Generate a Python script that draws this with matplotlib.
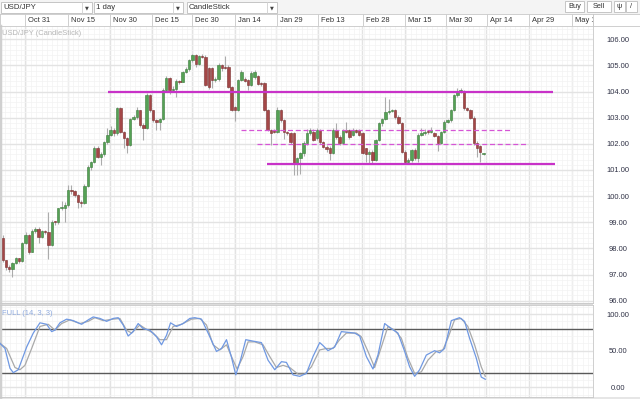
import matplotlib
matplotlib.use('Agg')
import matplotlib.pyplot as plt
from matplotlib.patches import Rectangle
import numpy as np

plt.rcParams['font.family'] = ['Liberation Sans', 'DejaVu Sans']

# daily USD/JPY candles, oldest first
opens = [98.38, 97.55, 97.30, 97.22, 97.43, 97.62, 97.50, 98.19, 98.51, 97.87,
         98.66, 98.74, 98.45, 98.66, 98.62, 98.13, 99.02, 99.00, 99.53, 99.55,
         99.66, 100.23, 100.20, 100.04, 99.76, 99.72, 100.40, 101.13, 101.29, 101.85,
         101.51, 101.62, 102.08, 102.34, 102.53, 102.40, 103.36, 102.47, 102.21, 101.95,
         102.94, 103.01, 103.29, 102.72, 102.59, 103.87, 103.29, 102.91, 102.85, 102.94,
         104.06, 104.51, 104.06, 104.10, 104.42, 104.38, 104.76, 104.85, 105.20, 105.40,
         105.05, 105.36, 105.33, 104.89, 104.89, 104.44, 104.47, 105.00, 104.95, 104.95,
         104.19, 103.42, 103.29, 104.44, 104.50, 104.44, 104.25, 104.55, 104.60, 104.30,
         104.31, 103.30, 102.53, 102.53, 102.47, 103.29, 102.91, 102.47, 102.41, 102.40,
         101.25, 101.44, 101.64, 102.02, 102.40, 102.47, 102.21, 102.53, 102.08, 101.89,
         101.83, 101.64, 102.53, 102.27, 102.02, 102.53, 102.53, 102.33, 102.53, 102.53,
         102.40, 101.83, 101.61, 101.70, 101.38, 102.14, 102.78, 102.97, 103.23, 103.27,
         103.29, 103.04, 102.78, 101.70, 101.32, 101.38, 101.76, 101.45, 102.34, 102.40,
         102.47, 102.45, 102.40, 102.30, 102.02, 102.47, 102.85, 102.90, 103.29, 103.87,
         104.00, 104.00, 103.36, 103.30, 103.00, 102.02, 101.90, 101.62]
highs = [98.51, 97.57, 97.36, 97.47, 97.66, 97.65, 98.25, 98.62, 98.55, 98.75,
         98.82, 98.80, 98.70, 98.70, 99.40, 99.10, 99.05, 99.55, 99.80, 99.78,
         100.42, 100.42, 100.25, 100.08, 99.85, 100.45, 101.20, 101.35, 101.90, 101.90,
         101.68, 102.12, 102.59, 102.70, 102.60, 103.40, 103.40, 102.50, 102.25, 103.00,
         103.10, 103.40, 103.30, 102.80, 103.95, 103.90, 103.30, 102.95, 103.00, 104.15,
         104.60, 104.55, 104.20, 104.50, 104.45, 104.80, 104.95, 105.25, 105.45, 105.45,
         105.40, 105.45, 105.40, 104.95, 104.95, 104.55, 105.08, 105.05, 105.37, 105.00,
         104.22, 103.45, 104.50, 104.82, 104.55, 104.50, 104.80, 104.82, 104.65, 104.36,
         104.35, 103.35, 102.55, 102.58, 103.40, 103.35, 102.95, 102.50, 102.45, 102.45,
         101.50, 101.70, 102.10, 102.55, 102.60, 102.55, 102.60, 102.58, 102.12, 101.95,
         101.90, 102.60, 102.80, 102.32, 102.58, 102.85, 102.58, 102.60, 102.58, 102.58,
         102.45, 101.86, 101.75, 101.75, 102.20, 102.82, 103.00, 103.80, 103.70, 103.33,
         103.33, 103.10, 102.82, 101.75, 101.45, 101.80, 101.85, 102.40, 102.60, 102.55,
         102.52, 102.65, 102.45, 102.35, 102.50, 102.90, 102.95, 103.33, 103.90, 104.12,
         104.15, 104.05, 103.42, 103.35, 103.05, 102.10, 101.95, 101.66]
lows = [97.49, 97.17, 97.11, 96.92, 97.40, 97.45, 97.47, 98.15, 97.80, 97.85,
        98.60, 98.19, 98.40, 98.55, 97.60, 98.10, 98.90, 98.95, 99.45, 99.00,
        99.60, 100.10, 99.95, 99.55, 99.60, 99.68, 100.35, 101.00, 101.25, 101.45,
        101.20, 101.55, 102.00, 102.30, 102.30, 102.35, 102.40, 101.83, 101.64, 101.90,
        102.90, 102.95, 102.65, 102.15, 102.55, 103.20, 102.85, 102.53, 102.53, 102.90,
        104.00, 103.90, 104.00, 103.80, 104.30, 104.35, 104.70, 104.80, 105.15, 104.95,
        105.00, 105.30, 104.20, 104.10, 104.15, 104.38, 104.40, 104.80, 104.85, 104.15,
        103.25, 102.87, 103.25, 104.40, 104.35, 104.06, 104.20, 104.50, 104.25, 104.22,
        103.25, 102.50, 101.95, 102.40, 102.40, 102.85, 102.20, 102.35, 102.00, 100.81,
        100.80, 100.85, 101.55, 101.95, 102.35, 102.10, 102.15, 102.00, 101.85, 101.70,
        101.40, 101.60, 102.20, 101.95, 101.98, 102.40, 102.20, 102.30, 102.42, 102.30,
        101.60, 101.32, 101.28, 101.28, 101.35, 102.10, 102.70, 102.90, 103.15, 103.20,
        102.95, 102.75, 101.65, 101.25, 101.25, 101.30, 101.40, 101.30, 102.30, 102.35,
        102.38, 102.40, 102.25, 101.74, 101.98, 102.40, 102.80, 102.85, 103.25, 103.80,
        103.95, 103.30, 103.25, 102.95, 101.95, 101.50, 101.32, 101.58]
closes = [97.55, 97.30, 97.22, 97.43, 97.62, 97.50, 98.19, 98.51, 97.87, 98.66,
          98.74, 98.45, 98.66, 98.62, 98.13, 99.02, 99.00, 99.53, 99.55, 99.66,
          100.23, 100.20, 100.04, 99.76, 99.72, 100.40, 101.13, 101.29, 101.85, 101.51,
          101.62, 102.08, 102.34, 102.53, 102.40, 103.36, 102.47, 102.21, 101.95, 102.94,
          103.01, 103.29, 102.72, 102.59, 103.87, 103.29, 102.91, 102.85, 102.94, 104.06,
          104.51, 104.06, 104.10, 104.42, 104.38, 104.76, 104.85, 105.20, 105.40, 105.05,
          105.36, 105.33, 104.25, 104.19, 104.44, 104.47, 105.00, 104.89, 104.89, 104.19,
          103.29, 103.29, 104.44, 104.76, 104.40, 104.25, 104.70, 104.75, 104.30, 104.28,
          103.30, 102.53, 102.40, 102.47, 103.29, 102.91, 102.47, 102.41, 102.08, 101.25,
          101.44, 101.64, 102.02, 102.40, 102.53, 102.15, 102.53, 102.08, 101.89, 101.79,
          101.64, 102.53, 102.27, 102.02, 102.53, 102.47, 102.27, 102.53, 102.47, 102.34,
          101.64, 101.61, 101.70, 101.38, 102.14, 102.78, 102.97, 103.23, 103.27, 103.29,
          103.04, 102.78, 101.70, 101.32, 101.38, 101.76, 101.45, 102.34, 102.40, 102.47,
          102.45, 102.53, 102.30, 102.02, 102.47, 102.85, 102.90, 103.29, 103.87, 104.00,
          104.05, 103.36, 103.30, 103.00, 102.02, 101.83, 101.70, 101.62]
assert len(opens) == len(highs) == len(lows) == len(closes)

# date header (position in candle units)
date_labels = ['Oct 31', 'Nov 15', 'Nov 30', 'Dec 15', 'Dec 30', 'Jan 14', 'Jan 29',
               'Feb 13', 'Feb 28', 'Mar 15', 'Mar 30', 'Apr 14', 'Apr 29', 'May 14']
date_pos = [6.81, 20.04, 32.77, 45.51, 57.91, 70.95, 83.69, 96.45, 109.96, 122.88,
            135.40, 147.83, 160.75, 173.97]

# support / resistance drawn on chart: (level, start, end)
solid_levels = [(104.0, 32.2, 168.1), (101.22, 80.9, 168.9)]
dashed_levels = [(102.53, 72.8, 155.0), (102.0, 77.7, 160.0)]

# Full stochastic (14,3,3)
k_x = [-0.82, 0.70, 2.23, 3.24, 4.76, 7.33, 9.35, 11.39, 13.44, 14.97,
       15.97, 17.50, 19.55, 21.56, 24.13, 26.15, 27.67, 29.72, 31.77, 33.78,
       35.31, 36.84, 38.36, 39.89, 41.42, 42.94, 44.99, 47.04, 48.56, 50.09,
       51.31, 53.15, 55.16, 57.21, 58.74, 60.78, 62.80, 65.36, 66.89, 68.42,
       69.94, 71.26, 72.69, 74.31, 76.54, 79.11, 81.12, 83.17, 85.22, 86.74,
       88.76, 90.81, 92.85, 94.87, 96.91, 97.92, 99.45, 101.50, 103.54, 105.56,
       107.61, 109.13, 111.18, 113.19, 114.72, 116.77, 118.81, 120.83, 122.88, 124.40,
       125.93, 127.46, 129.50, 132.04, 133.56, 135.09, 137.14, 139.67, 141.20, 142.73,
       144.77, 146.30, 147.53]
k_vals = [60, 53, 26, 20, 24, 55, 74, 88, 86, 76,
          78, 88, 93, 91, 86, 92, 96, 94, 90, 94,
          95, 85, 70, 76, 87, 80, 78, 69, 58, 71,
          88, 83, 87, 94, 95, 93, 74, 49, 53, 65,
          41, 17, 37, 65, 63, 61, 37, 24, 35, 34,
          17, 15, 19, 42, 61, 57, 50, 55, 76, 75,
          74, 70, 42, 25, 44, 87, 80, 74, 49, 28,
          15, 24, 44, 50, 47, 53, 91, 95, 90, 67,
          40, 14, 11]
d_x = [-0.82, 1.22, 3.76, 5.28, 6.81, 8.86, 11.39, 13.93, 15.97, 18.02,
       20.56, 23.61, 26.15, 28.19, 30.73, 33.78, 35.83, 37.87, 39.40, 41.94,
       43.98, 46.00, 48.04, 50.09, 52.11, 54.67, 57.73, 60.26, 62.31, 64.33,
       66.37, 68.42, 70.43, 71.66, 73.49, 75.02, 77.06, 79.60, 81.64, 83.69,
       85.71, 87.75, 90.29, 92.33, 94.38, 96.91, 98.96, 100.98, 103.02, 105.07,
       108.12, 109.65, 111.67, 113.71, 115.76, 117.78, 119.82, 121.87, 123.88, 125.93,
       127.98, 129.99, 132.56, 134.57, 136.10, 138.14, 140.19, 142.21, 144.26, 146.30,
       147.53]
d_vals = [60, 53, 27, 24, 30, 53, 83, 86, 78, 87,
          92, 87, 90, 95, 91, 93, 94, 78, 74, 85,
          79, 74, 65, 65, 83, 86, 93, 94, 85, 58,
          51, 58, 37, 25, 42, 62, 62, 58, 42, 27,
          30, 27, 18, 18, 28, 51, 53, 53, 65, 74,
          74, 69, 49, 27, 55, 83, 78, 67, 40, 19,
          21, 37, 49, 51, 67, 92, 94, 83, 58, 28,
          15]

W, H = 640.0, 399.0
def fx(px):
    return px / W
def fy(py):
    return 1 - py / H

XLIM = (-0.82, 180.3)
TXT = '#333333'
GRID = '#e3e3e3'
MINOR = '#f3f3f3'
BORDER = '#c8c8c8'
MAGENTA = '#c832c8'

fig = plt.figure(figsize=(6.4, 3.99), dpi=100)
fig.patch.set_facecolor('white')

# toolbar strip
fig.patches.append(Rectangle((0, fy(14)), 1, 1 - fy(14), transform=fig.transFigure,
                             facecolor='#f4f4f4', edgecolor='none', zorder=-2))
fig.patches.append(Rectangle((0, 0), 1, fy(397), transform=fig.transFigure,
                             facecolor='#e6e6e6', edgecolor='none', zorder=-2))
fig.patches.append(Rectangle((0, fy(305)), fx(593), fy(303) - fy(305), transform=fig.transFigure,
                             facecolor='#dcdcdc', edgecolor='none', zorder=-2))
fig.patches.append(Rectangle((fx(593), fy(26)), fx(47), fy(14) - fy(26), transform=fig.transFigure,
                             facecolor='white', edgecolor=BORDER, lw=0.6, zorder=-1))

for x0, x1, arrow_x, label in [(1, 92, 82, 'USD/JPY'), (94, 183, 173, '1 day'),
                               (187, 277, 267, 'CandleStick')]:
    fig.patches.append(Rectangle((fx(x0), fy(13)), fx(x1 - x0), fy(2) - fy(13),
                                 transform=fig.transFigure, facecolor='white',
                                 edgecolor='#bdbdbd', lw=0.6))
    fig.lines.append(plt.Line2D([fx(arrow_x), fx(arrow_x)], [fy(13), fy(2)],
                                transform=fig.transFigure, color='#d0d0d0', lw=0.6))
    fig.text(fx(x0 + 2), fy(7.8), label, fontsize=5.6, color=TXT, va='center', ha='left')
    fig.text(fx((arrow_x + x1) / 2), fy(7.8), '▼', fontsize=3.6, color='#444444',
             va='center', ha='center', family=['DejaVu Sans'])

for x0, x1, label in [(565, 584, 'Buy'), (587, 611, 'Sell'), (614, 625, 'ψ'), (626, 637, '/')]:
    fig.patches.append(Rectangle((fx(x0), fy(12)), fx(x1 - x0), fy(1) - fy(12),
                                 transform=fig.transFigure, facecolor='white',
                                 edgecolor='#bdbdbd', lw=0.6))
    fig.text(fx((x0 + x1) / 2), fy(6.8), label, fontsize=5.3, color=TXT,
             va='center', ha='center')

# date header row
hd = fig.add_axes([0, fy(26), fx(593), fy(14) - fy(26)])
hd.set_xlim(*XLIM)
hd.set_ylim(0, 1)
hd.set_facecolor('white')
hd.set_xticks([])
hd.set_yticks([])
for s in hd.spines.values():
    s.set_color(BORDER)
    s.set_linewidth(0.6)
hd.vlines(date_pos, 0, 1, color=BORDER, lw=0.6)
for p, lab in zip(date_pos, date_labels):
    hd.text(p + 0.9, 0.5, lab, fontsize=5.4, color=TXT, va='center', ha='left', clip_on=True)

# price panel
ax = fig.add_axes([0, fy(303), fx(593), fy(26) - fy(303)])
ax.set_xlim(*XLIM)
ax.set_ylim(95.91, 106.51)
ax.set_xticks(date_pos)
ax.set_xticks(np.arange(-0.8, 181, 1.59), minor=True)
ax.set_yticks(np.arange(96, 107))
ax.set_yticks(np.arange(96, 106.6, 0.2), minor=True)
ax.grid(which='major', color=GRID, lw=1.0, zorder=0)
ax.grid(which='minor', color=MINOR, lw=0.5, zorder=0)
ax.set_axisbelow(True)
ax.yaxis.tick_right()
ax.set_yticklabels(['%.2f' % v for v in np.arange(96, 107)])
ax.tick_params(axis='x', which='both', length=0, labelbottom=False)
ax.tick_params(axis='y', which='both', length=0, labelsize=5.4, labelcolor='#2f3145', pad=18)
for lab in ax.get_yticklabels():
    lab.set_ha('center')
for s in ax.spines.values():
    s.set_color(BORDER)
    s.set_linewidth(0.6)
ax.spines['left'].set_color('#d0d0d0')
ax.spines['left'].set_linewidth(2.5)

idx = np.arange(len(closes))
o = np.array(opens)
c = np.array(closes)
up = c >= o
body_lo = np.minimum(o, c)
body_h = np.maximum(np.abs(c - o), 0.035)
ax.vlines(idx, lows, highs, color='#ababab', lw=0.8, zorder=2)
ax.bar(idx[up], body_h[up], bottom=body_lo[up], width=0.72, color='#55a255',
       edgecolor='#3a7a3a', linewidth=0.4, zorder=3)
ax.bar(idx[~up], body_h[~up], bottom=body_lo[~up], width=0.72, color='#a44747',
       edgecolor='#7a2f2f', linewidth=0.4, zorder=3)

for lvl, x0, x1 in solid_levels:
    ax.hlines(lvl, x0, x1, color=MAGENTA, lw=1.6, zorder=4)
for lvl, x0, x1 in dashed_levels:
    ax.hlines(lvl, x0, x1, color='#d655d6', lw=0.9, linestyles=(0, (4, 2.2)), zorder=4)

ax.text(0.004, 0.985, 'USD/JPY (CandleStick)', transform=ax.transAxes, fontsize=5.4,
        color='#b5b5b5', va='top', ha='left')

# stochastic panel
ax2 = fig.add_axes([0, fy(397), fx(593), fy(305) - fy(397)])
ax2.set_xlim(*XLIM)
ax2.set_ylim(-13.2, 112.3)
ax2.set_xticks(date_pos)
ax2.set_xticks(np.arange(-0.8, 181, 1.59), minor=True)
ax2.set_yticks([0, 50, 100])
ax2.set_yticks(np.arange(-10, 111, 10), minor=True)
ax2.grid(which='major', color=GRID, lw=1.0, zorder=0)
ax2.grid(which='minor', color=MINOR, lw=0.5, zorder=0)
ax2.set_axisbelow(True)
ax2.yaxis.tick_right()
ax2.set_yticklabels(['0.00', '50.00', '100.00'])
ax2.tick_params(axis='x', which='both', length=0, labelbottom=False)
ax2.tick_params(axis='y', which='both', length=0, labelsize=5.4, labelcolor='#2f3145', pad=18)
for lab in ax2.get_yticklabels():
    lab.set_ha('center')
for s in ax2.spines.values():
    s.set_color(BORDER)
    s.set_linewidth(0.6)
ax2.spines['left'].set_color('#d0d0d0')
ax2.spines['left'].set_linewidth(2.5)

ax2.axhline(80, color='#5a5a5a', lw=1.0, zorder=2)
ax2.axhline(20, color='#5a5a5a', lw=1.0, zorder=2)
ax2.plot(d_x, d_vals, color='#a9a9a9', lw=0.9, zorder=3)
ax2.plot(k_x, k_vals, color='#6f98e2', lw=0.9, zorder=4)
ax2.text(0.004, 0.95, 'FULL (14, 3, 3)', transform=ax2.transAxes, fontsize=5.4,
         color='#8eaadf', va='top', ha='left')

fig.savefig('out.png', dpi=100, facecolor=fig.get_facecolor())
